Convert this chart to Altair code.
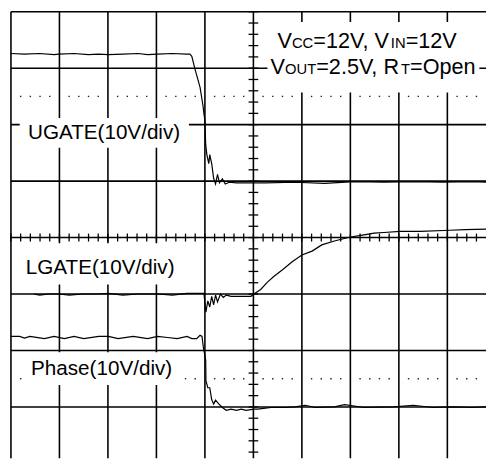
import altair as alt
import pandas as pd

# ---- scope traces: time and level both in screen divisions ----
ugate_t = [0.00, 0.28, 0.59, 0.89, 0.99, 1.30, 1.60, 1.81, 2.01, 2.31, 2.62, 2.82, 3.02, 3.33,
           3.63, 3.69, 3.73, 3.79, 3.90, 3.96, 3.98, 4.00, 4.006, 4.016, 4.04, 4.08, 4.10, 4.14,
           4.18, 4.22, 4.26, 4.30, 4.36, 4.42, 4.50, 4.65, 4.85, 5.25, 5.86, 6.47, 7.08, 7.69,
           8.30, 8.91, 9.51, 9.80]
ugate_v = [7.26, 7.25, 7.26, 7.24, 7.25, 7.26, 7.24, 7.25, 7.24, 7.25, 7.26, 7.24, 7.25, 7.26,
           7.25, 7.25, 7.21, 7.00, 6.66, 6.34, 6.19, 6.08, 5.91, 5.65, 5.47, 5.31, 5.47, 5.31,
           5.05, 4.95, 5.12, 4.97, 5.04, 4.95, 4.98, 4.97, 4.97, 4.97, 4.98, 4.96, 4.99, 4.98,
           4.99, 4.98, 4.99, 4.98]

lgate_t = [0.47, 0.59, 0.79, 0.99, 1.20, 1.50, 1.81, 2.01, 2.31, 2.62, 3.02, 3.33, 3.63, 3.83,
           3.98, 4.02, 4.06, 4.10, 4.14, 4.18, 4.22, 4.26, 4.32, 4.38, 4.44, 4.54, 4.75, 4.95,
           5.01, 5.15, 5.29, 5.42, 5.60, 5.80, 6.00, 6.21, 6.41, 6.67, 7.00, 7.22, 7.49, 7.69,
           8.03, 8.44, 9.05, 9.37, 9.80]
lgate_v = [3.00, 2.98, 3.00, 3.00, 2.98, 3.00, 3.00, 3.01, 2.98, 3.00, 3.00, 2.98, 3.01, 3.01,
           3.01, 2.68, 2.88, 2.77, 2.96, 2.81, 2.98, 2.86, 3.00, 2.94, 2.98, 2.96, 2.96, 2.96,
           3.00, 3.08, 3.21, 3.31, 3.43, 3.57, 3.69, 3.76, 3.87, 3.94, 4.01, 4.04, 4.08, 4.09,
           4.11, 4.11, 4.13, 4.14, 4.15]

phase_t = [0.00, 0.18, 0.28, 0.39, 0.69, 0.89, 1.10, 1.30, 1.50, 1.81, 2.01, 2.21, 2.52, 2.82,
           3.02, 3.23, 3.43, 3.63, 3.73, 3.83, 3.90, 3.94, 3.97, 3.98, 4.016, 4.022, 4.06, 4.10,
           4.14, 4.18, 4.22, 4.28, 4.36, 4.44, 4.54, 4.65, 4.75, 4.85, 5.01, 5.09, 5.25, 5.36,
           5.66, 5.86, 6.07, 6.27, 6.67, 6.88, 7.28, 7.89, 8.30, 8.70, 9.11, 9.51, 9.80]
phase_v = [2.25, 2.25, 2.22, 2.25, 2.21, 2.25, 2.21, 2.25, 2.21, 2.25, 2.25, 2.21, 2.25, 2.21,
           2.25, 2.23, 2.21, 2.25, 2.21, 2.21, 2.27, 2.25, 2.04, 2.00, 1.83, 1.46, 1.34, 1.34,
           1.13, 1.05, 1.12, 1.06, 0.99, 0.94, 0.96, 0.94, 0.96, 0.94, 0.96, 0.96, 0.98, 0.99,
           0.99, 1.00, 1.03, 0.99, 1.00, 1.04, 0.99, 1.00, 1.03, 0.99, 1.00, 0.99, 1.00]

# ---- graticule (visible part of a 10 x 8 division screen) ----
x_lo, x_hi = 0.0, 9.797
y_lo, y_hi = 0.091, 8.0
grid_x = [0, 1, 2, 3, 4, 5, 6, 7, 8, 9]
grid_y = [1, 2, 3, 4, 5, 6, 7, 8]
center_x = 5
center_y = 4
dotted_y = [6.5, 1.5]

# ---- labels ----
label_text = ["UGATE(10V/div)", "LGATE(10V/div)", "Phase(10V/div)"]
label_x = [1.92, 1.84, 1.87]
label_y = [5.74, 3.36, 1.57]

box_x = [0.18, 0.06, 0.26, 5.29]
box_x2 = [3.67, 3.83, 3.53, 9.66]
box_y = [5.59, 3.17, 1.39, 6.57]
box_y2 = [6.12, 3.90, 1.97, 7.82]

cond_text = ["V", "CC", "=12V, V", "IN", "=12V",
             "V", "OUT", "=2.5V, R", "T", "=Open"]
cond_x = [5.497, 5.795, 6.236, 7.835, 8.140,
          5.355, 5.653, 6.296, 8.045, 8.231]
cond_y = [7.357] * 5 + [6.894] * 5
cond_small = [False, True, False, True, False,
              False, True, False, True, False]

X = alt.Scale(domain=[x_lo, x_hi], nice=False, zero=False)
Y = alt.Scale(domain=[y_lo, y_hi], nice=False, zero=False)

segs = []
for gx in grid_x:
    segs.append(dict(x=gx, x2=gx, y=y_lo, y2=y_hi, w=1.6))
for gy in grid_y:
    segs.append(dict(x=x_lo, x2=x_hi, y=gy, y2=gy, w=1.6))
for k in range(0, 49):
    t = k * 0.2
    segs.append(dict(x=t, x2=t, y=center_y - 0.07, y2=center_y + 0.07, w=1.3))
for k in range(1, 41):
    v = k * 0.2
    segs.append(dict(x=center_x - 0.1, x2=center_x + 0.1, y=v, y2=v, w=1.3))
seg_df = pd.DataFrame(segs)

dots = []
for dy in dotted_y:
    for k in range(0, 49):
        if k % 5 != 0:
            dots.append(dict(x=k * 0.2, y=dy))
dot_df = pd.DataFrame(dots)

trace_rows = []
for name, ts, vs in [("UGATE", ugate_t, ugate_v), ("LGATE", lgate_t, lgate_v),
                     ("Phase", phase_t, phase_v)]:
    for i, (t, v) in enumerate(zip(ts, vs)):
        trace_rows.append(dict(s=name, i=i, t=t, v=v))
trace_df = pd.DataFrame(trace_rows)

box_df = pd.DataFrame(dict(x=box_x, x2=box_x2, y=box_y, y2=box_y2))
label_df = pd.DataFrame(dict(text=label_text, x=label_x, y=label_y))
cond_df = pd.DataFrame(dict(text=cond_text, x=cond_x, y=cond_y,
                            fs=[15 if s else 22 for s in cond_small]))

grid = alt.Chart(seg_df).mark_rule(color="black").encode(
    x=alt.X("x:Q", scale=X, axis=None), x2="x2:Q",
    y=alt.Y("y:Q", scale=Y, axis=None), y2="y2:Q",
    strokeWidth=alt.StrokeWidth("w:Q", scale=None),
)

dotted = alt.Chart(dot_df).mark_square(size=2, color="#222222", opacity=1).encode(
    x=alt.X("x:Q", scale=X, axis=None),
    y=alt.Y("y:Q", scale=Y, axis=None),
)

boxes = alt.Chart(box_df).mark_rect(color="white").encode(
    x=alt.X("x:Q", scale=X, axis=None), x2="x2:Q",
    y=alt.Y("y:Q", scale=Y, axis=None), y2="y2:Q",
)

labels = alt.Chart(label_df).mark_text(
    font="Liberation Sans", fontSize=21, align="center", baseline="alphabetic", color="black"
).encode(
    x=alt.X("x:Q", scale=X, axis=None),
    y=alt.Y("y:Q", scale=Y, axis=None),
    text="text:N",
)

cond = alt.Chart(cond_df).mark_text(
    font="Liberation Sans", align="left", baseline="alphabetic", color="black"
).encode(
    x=alt.X("x:Q", scale=X, axis=None),
    y=alt.Y("y:Q", scale=Y, axis=None),
    text="text:N",
    size=alt.Size("fs:Q", scale=None),
)

traces = alt.Chart(trace_df).mark_line(color="black", strokeWidth=1.2).encode(
    x=alt.X("t:Q", scale=X, axis=None),
    y=alt.Y("v:Q", scale=Y, axis=None),
    detail="s:N",
    order="i:Q",
)

chart = alt.layer(grid, dotted, boxes, labels, cond, traces).properties(
    width=483, height=454,
    padding={"left": 3, "top": 0, "right": 0, "bottom": 0},
    autosize=alt.AutoSizeParams(type="none"),
).configure_view(strokeWidth=0)

chart.save("out.html", embed_options={"renderer": "svg", "actions": False})
